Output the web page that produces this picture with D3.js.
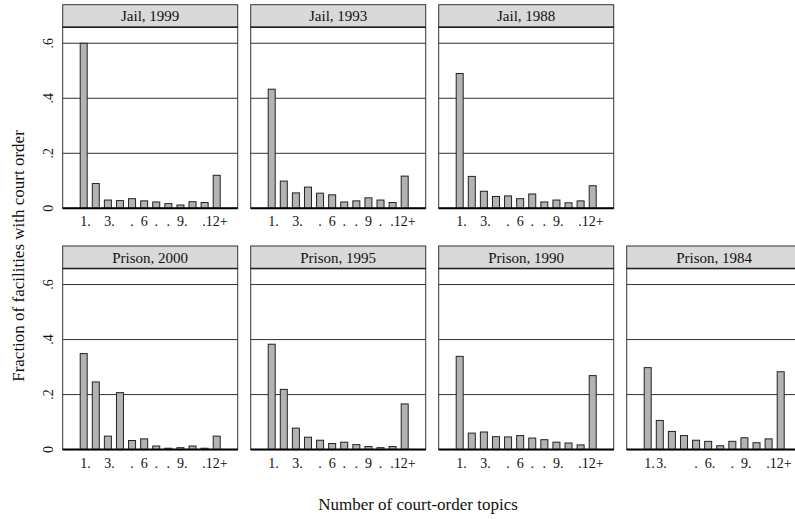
<!DOCTYPE html>
<html><head><meta charset="utf-8">
<script src="https://cdn.jsdelivr.net/npm/d3@7"></script>
<style>body{margin:0;background:#fff}svg{display:block}</style>
</head><body><svg id="c" width="795" height="519"></svg>
<script>
// ---------- data ----------
const categories = ["1","2","3","4","5","6","7","8","9","10","11","12+"];
const panelTitles = ["Jail, 1999","Jail, 1993","Jail, 1988","Prison, 2000","Prison, 1995","Prison, 1990","Prison, 1984"];
const jail1999   = [0.600,0.090,0.030,0.028,0.035,0.027,0.023,0.017,0.012,0.024,0.021,0.120];
const jail1993   = [0.433,0.099,0.056,0.077,0.055,0.049,0.023,0.027,0.038,0.030,0.021,0.117];
const jail1988   = [0.490,0.116,0.062,0.043,0.045,0.035,0.052,0.023,0.030,0.020,0.027,0.082];
const prison2000 = [0.349,0.246,0.049,0.207,0.033,0.039,0.013,0.005,0.007,0.013,0.005,0.049];
const prison1995 = [0.383,0.219,0.078,0.045,0.034,0.022,0.027,0.018,0.011,0.007,0.011,0.166];
const prison1990 = [0.339,0.060,0.064,0.047,0.046,0.051,0.042,0.036,0.027,0.024,0.017,0.269];
const prison1984 = [0.298,0.106,0.066,0.051,0.034,0.030,0.014,0.030,0.043,0.025,0.039,0.283];
const yTicks = [0, 0.2, 0.4, 0.6];
const yTickLabels = ["0", ".2", ".4", ".6"];
const xLabelsA = ["1.","","3.","",".","6",".",".","9.","","",".12+"];
const xLabelsB = ["1.","","3.","",".","6",".",".","9",".","",".12+"];
const xLabelsC = ["1.","3.","","",".","6.","",".","9.","","",".12+"];
const yTitle = "Fraction of facilities with court order";
const xTitle = "Number of court-order topics";

const panels = [
  {title: panelTitles[0], values: jail1999,   labels: xLabelsA, row: 0, col: 0},
  {title: panelTitles[1], values: jail1993,   labels: xLabelsB, row: 0, col: 1},
  {title: panelTitles[2], values: jail1988,   labels: xLabelsA, row: 0, col: 2},
  {title: panelTitles[3], values: prison2000, labels: xLabelsA, row: 1, col: 0},
  {title: panelTitles[4], values: prison1995, labels: xLabelsB, row: 1, col: 1},
  {title: panelTitles[5], values: prison1990, labels: xLabelsA, row: 1, col: 2},
  {title: panelTitles[6], values: prison1984, labels: xLabelsC, row: 1, col: 3}
];

// ---------- layout ----------
const svg = d3.select("#c");
const FONT = "'Liberation Serif','Times New Roman',serif";
const panelW = 175, colStep = 188, left0 = 62.7;
const rowTop = [4.7, 246];
const headerH = 22.6, plotH = 181;
const tickFont = 14;

const x = d3.scalePoint().domain(categories).range([21, 154]);
const barW = 7;
const y = d3.scaleLinear().domain([0, 0.658]).range([plotH, 0]);

// text measuring helper
const meas = svg.append("text").attr("font-family", FONT).attr("font-size", tickFont)
  .attr("visibility", "hidden");
function tw(s) { if (!s) return 0; meas.text(s); return meas.node().getComputedTextLength(); }
// position so that the label's core (without leading/trailing dots) is centred on the bar
function labelStart(label, cx) {
  const m = label.match(/^(\.*)(.*?)(\.*)$/);
  const lead = m[1], core = m[2];
  if (!core) return cx - tw(label) / 2;
  return cx - tw(core) / 2 - tw(lead);
}

panels.forEach(p => {
  const gx = left0 + p.col * colStep;
  const gy = rowTop[p.row];
  const g = svg.append("g").attr("transform", `translate(${gx},${gy})`);
  // header
  g.append("rect").attr("x", 0).attr("y", 0).attr("width", panelW).attr("height", headerH)
    .attr("fill", "#d9d9d9").attr("stroke", "#333").attr("stroke-width", 1);
  g.append("text").attr("x", panelW / 2).attr("y", headerH / 2 + 5.2)
    .attr("text-anchor", "middle").attr("font-family", FONT).attr("font-size", 15)
    .attr("fill", "#111").text(p.title);
  const pg = g.append("g").attr("transform", `translate(0,${headerH})`);
  pg.append("rect").attr("width", panelW).attr("height", plotH)
    .attr("fill", "#fff").attr("stroke", "#333").attr("stroke-width", 1);
  pg.append("line").attr("x1", 0).attr("x2", panelW).attr("y1", 0).attr("y2", 0)
    .attr("stroke", "#222").attr("stroke-width", 1.5);
  // gridlines
  pg.selectAll("line.grid").data(yTicks.slice(1)).enter().append("line")
    .attr("class", "grid").attr("x1", 0).attr("x2", panelW)
    .attr("y1", d => y(d)).attr("y2", d => y(d))
    .attr("stroke", "#333").attr("stroke-width", 1);
  // bars
  pg.selectAll("rect.bar").data(p.values).enter().append("rect")
    .attr("class", "bar")
    .attr("x", (d, i) => x(categories[i]) - barW / 2)
    .attr("y", d => y(d))
    .attr("width", barW)
    .attr("height", d => y(0) - y(d))
    .attr("fill", "#b3b3b3").attr("stroke", "#222").attr("stroke-width", 1);
  // baseline
  pg.append("line").attr("x1", 0).attr("x2", panelW).attr("y1", y(0)).attr("y2", y(0))
    .attr("stroke", "#000").attr("stroke-width", 2);
  // x tick labels
  pg.selectAll("text.xl").data(p.labels.map((l, i) => ({l, i})).filter(d => d.l)).enter().append("text")
    .attr("class", "xl")
    .attr("x", d => labelStart(d.l, x(categories[d.i])))
    .attr("y", plotH + 18)
    .attr("text-anchor", "start").attr("font-family", FONT).attr("font-size", tickFont)
    .attr("fill", "#111").text(d => d.l);
  // y axis labels for first column
  if (p.col === 0) {
    pg.selectAll("text.yl").data(yTicks).enter().append("text")
      .attr("class", "yl")
      .attr("transform", d => `translate(${-10},${y(d)}) rotate(-90)`)
      .attr("text-anchor", "middle").attr("font-family", FONT).attr("font-size", 14)
      .attr("fill", "#111").text((d, i) => yTickLabels[i]);
  }
});
meas.remove();

// axis titles
svg.append("text").attr("transform", "translate(24,256) rotate(-90)")
  .attr("text-anchor", "middle").attr("font-family", FONT).attr("font-size", 17)
  .attr("fill", "#111").text(yTitle);
svg.append("text").attr("x", 418).attr("y", 510)
  .attr("text-anchor", "middle").attr("font-family", FONT).attr("font-size", 17)
  .attr("fill", "#111").text(xTitle);
</script>
</body></html>
